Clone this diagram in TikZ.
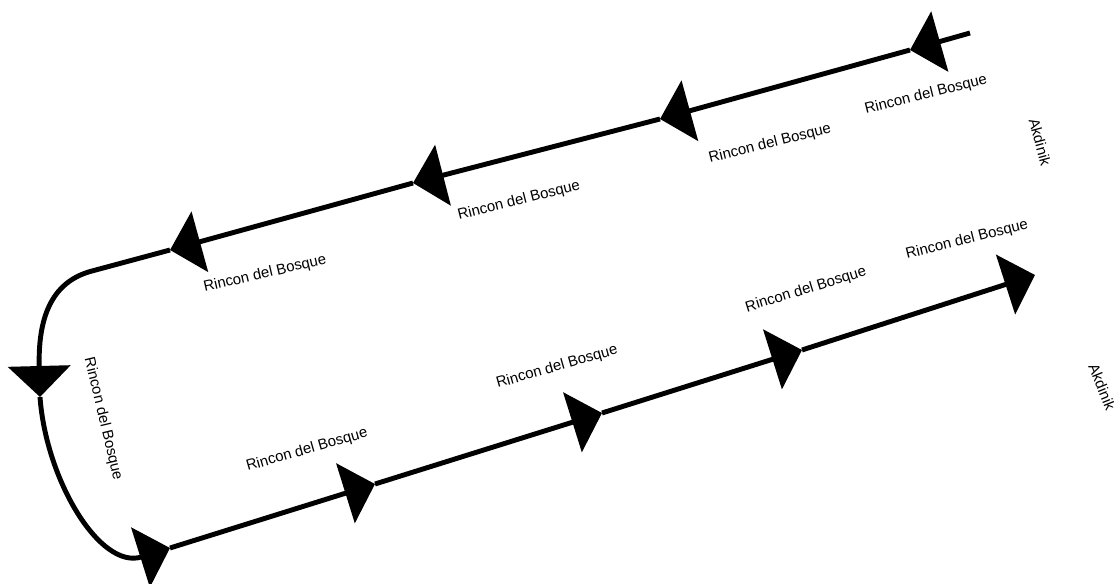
\documentclass[tikz,border=0pt]{standalone}
\usepackage{fontspec}
\setmainfont{Liberation Sans}
\usetikzlibrary{arrows.meta}

\begin{document}
\begin{tikzpicture}[x=0.02cm, y=-0.02cm, line width=2.8pt, -{Triangle[width=1.24cm, length=0.62cm]}]
	\tikzstyle{station} = [font=\fontsize{8.5}{10}\selectfont, inner sep=0pt]
	\useasboundingbox (0,0) rectangle (1115,584);
	% upper track, running to the left
	\coordinate (S) at (970,33);
	\coordinate (A) at (910,50);
	\coordinate (B) at (660,119);
	\coordinate (C) at (413,183);
	\coordinate (D) at (170,250);
	\coordinate (K) at (92,271);
	\coordinate (E) at (40,397);
	% lower track, running to the right
	\coordinate (F) at (170,548);
	\coordinate (G) at (375,484);
	\coordinate (H) at (602,413);
	\coordinate (I) at (802,350);
	\coordinate (J) at (1035,275);
	\path (S) edge (A);
	\path (A) edge (B);
	\path (B) edge (C);
	\path (C) edge (D);
	\draw (D) -- (K) .. controls (50,282) and (38,320) .. (E);
	\draw (E) .. controls (46,480) and (100,570) .. (F);
	\path (F) edge (G);
	\path (G) edge (H);
	\path (H) edge (I);
	\path (I) edge (J);
	% stations
	\node[station, rotate=14](a) at (926,95) {Rincon del Bosque};
	\node[station, rotate=14](b) at (770,144) {Rincon del Bosque};
	\node[station, rotate=14](c) at (519,201) {Rincon del Bosque};
	\node[station, rotate=13](d) at (265,274) {Rincon del Bosque};
	\node[station, rotate=-76.6](e) at (103,419) {Rincon del Bosque};
	\node[station, rotate=16](f) at (307,450) {Rincon del Bosque};
	\node[station, rotate=16](g) at (557,367) {Rincon del Bosque};
	\node[station, rotate=17](h) at (806,290) {Rincon del Bosque};
	\node[station, rotate=14](i) at (967,240) {Rincon del Bosque};
	\node[station, rotate=-75](k1) at (1040,142) {Akdinik};
	\node[station, rotate=-68](k2) at (1102,387) {Akdinik};
\end{tikzpicture}
\end{document}
